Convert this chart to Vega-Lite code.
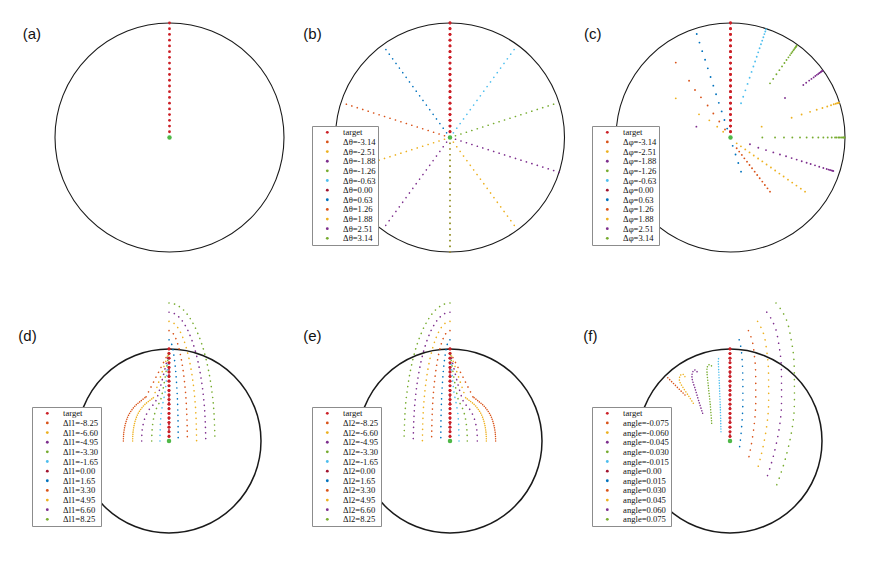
{
"$schema": "https://vega.github.io/schema/vega-lite/v6.json",
"padding": 0,
"spacing": 0,
"background": "white",
"resolve": {"scale": {"color": "independent"}, "legend": {"color": "independent"}},
"config": {
  "view": {"stroke": null},
  "concat": {"spacing": 0},
  "legend": {"labelFont": "Liberation Serif", "labelFontSize": 8.6, "labelColor": "#111111", "strokeColor": "#8c8c8c", "fillColor": "#ffffff", "padding": 2, "rowPadding": 0.64, "symbolSize": 8, "symbolType": "circle", "symbolStrokeWidth": 0, "labelOffset": 11.5, "symbolOffset": 9, "labelLimit": 0}
},
"datasets": {
  "o": [{"x": 0, "y": 0}],
  "tgt": [
    {"s":"target","x":0,"y":0},{"s":"target","x":0,"y":0.05},{"s":"target","x":0,"y":0.1},{"s":"target","x":0,"y":0.15},{"s":"target","x":0,"y":0.2},{"s":"target","x":0,"y":0.25},{"s":"target","x":0,"y":0.3},{"s":"target","x":0,"y":0.35},{"s":"target","x":0,"y":0.4},{"s":"target","x":0,"y":0.45},{"s":"target","x":0,"y":0.5},{"s":"target","x":0,"y":0.55},{"s":"target","x":0,"y":0.6},{"s":"target","x":0,"y":0.65},{"s":"target","x":0,"y":0.7},{"s":"target","x":0,"y":0.75},{"s":"target","x":0,"y":0.8},{"s":"target","x":0,"y":0.85},{"s":"target","x":0,"y":0.9},{"s":"target","x":0,"y":0.95},{"s":"target","x":0,"y":1}
  ],
  "b": [
    {"s":"Δθ=-3.14","x":0,"y":0},{"s":"Δθ=-3.14","x":0,"y":-1},
    {"s":"Δθ=-2.51","x":0,"y":0},{"s":"Δθ=-2.51","x":0.59,"y":-0.807},
    {"s":"Δθ=-1.88","x":0,"y":0},{"s":"Δθ=-1.88","x":0.953,"y":-0.304},
    {"s":"Δθ=-1.26","x":0,"y":0},{"s":"Δθ=-1.26","x":0.952,"y":0.306},
    {"s":"Δθ=-0.63","x":0,"y":0},{"s":"Δθ=-0.63","x":0.589,"y":0.808},
    {"s":"Δθ=0.00","x":0,"y":0},{"s":"Δθ=0.00","x":0,"y":1},
    {"s":"Δθ=0.63","x":0,"y":0},{"s":"Δθ=0.63","x":-0.589,"y":0.808},
    {"s":"Δθ=1.26","x":0,"y":0},{"s":"Δθ=1.26","x":-0.952,"y":0.306},
    {"s":"Δθ=1.88","x":0,"y":0},{"s":"Δθ=1.88","x":-0.953,"y":-0.304},
    {"s":"Δθ=2.51","x":0,"y":0},{"s":"Δθ=2.51","x":-0.59,"y":-0.807},
    {"s":"Δθ=3.14","x":0,"y":0},{"s":"Δθ=3.14","x":0,"y":-1}
  ],
  "c": [
    {"s":"Δφ=-0.63","x":0.092,"y":0.299},{"s":"Δφ=-0.63","x":0.111,"y":0.356},{"s":"Δφ=-0.63","x":0.13,"y":0.412},{"s":"Δφ=-0.63","x":0.149,"y":0.468},{"s":"Δφ=-0.63","x":0.167,"y":0.522},{"s":"Δφ=-0.63","x":0.184,"y":0.573},{"s":"Δφ=-0.63","x":0.2,"y":0.62},{"s":"Δφ=-0.63","x":0.215,"y":0.664},{"s":"Δφ=-0.63","x":0.229,"y":0.705},{"s":"Δφ=-0.63","x":0.242,"y":0.744},{"s":"Δφ=-0.63","x":0.254,"y":0.78},{"s":"Δφ=-0.63","x":0.266,"y":0.814},{"s":"Δφ=-0.63","x":0.277,"y":0.846},{"s":"Δφ=-0.63","x":0.287,"y":0.876},{"s":"Δφ=-0.63","x":0.296,"y":0.903},{"s":"Δφ=-0.63","x":0.304,"y":0.926},{"s":"Δφ=-0.63","x":0.31,"y":0.945},
    {"s":"Δφ=-1.26","x":0.345,"y":0.473},{"s":"Δφ=-1.26","x":0.373,"y":0.512},{"s":"Δφ=-1.26","x":0.401,"y":0.552},{"s":"Δφ=-1.26","x":0.427,"y":0.588},{"s":"Δφ=-1.26","x":0.45,"y":0.621},{"s":"Δφ=-1.26","x":0.471,"y":0.651},{"s":"Δφ=-1.26","x":0.489,"y":0.677},{"s":"Δφ=-1.26","x":0.506,"y":0.7},{"s":"Δφ=-1.26","x":0.52,"y":0.72},{"s":"Δφ=-1.26","x":0.531,"y":0.736},{"s":"Δφ=-1.26","x":0.541,"y":0.749},{"s":"Δφ=-1.26","x":0.55,"y":0.763},{"s":"Δφ=-1.26","x":0.557,"y":0.772},{"s":"Δφ=-1.26","x":0.564,"y":0.782},{"s":"Δφ=-1.26","x":0.569,"y":0.789},{"s":"Δφ=-1.26","x":0.573,"y":0.795},{"s":"Δφ=-1.26","x":0.578,"y":0.802},
    {"s":"Δφ=-1.88","x":0.636,"y":0.459},{"s":"Δφ=-1.88","x":0.661,"y":0.478},{"s":"Δφ=-1.88","x":0.687,"y":0.497},{"s":"Δφ=-1.88","x":0.707,"y":0.512},{"s":"Δφ=-1.88","x":0.726,"y":0.525},{"s":"Δφ=-1.88","x":0.741,"y":0.537},{"s":"Δφ=-1.88","x":0.754,"y":0.547},{"s":"Δφ=-1.88","x":0.766,"y":0.555},{"s":"Δφ=-1.88","x":0.776,"y":0.563},{"s":"Δφ=-1.88","x":0.785,"y":0.569},{"s":"Δφ=-1.88","x":0.791,"y":0.574},{"s":"Δφ=-1.88","x":0.796,"y":0.578},{"s":"Δφ=-1.88","x":0.801,"y":0.581},{"s":"Δφ=-1.88","x":0.805,"y":0.584},
    {"s":"Δφ=-2.51","x":0.534,"y":0.173},{"s":"Δφ=-2.51","x":0.621,"y":0.201},{"s":"Δφ=-2.51","x":0.695,"y":0.224},{"s":"Δφ=-2.51","x":0.753,"y":0.242},{"s":"Δφ=-2.51","x":0.803,"y":0.258},{"s":"Δφ=-2.51","x":0.845,"y":0.271},{"s":"Δφ=-2.51","x":0.878,"y":0.282},{"s":"Δφ=-2.51","x":0.902,"y":0.29},{"s":"Δφ=-2.51","x":0.919,"y":0.295},{"s":"Δφ=-2.51","x":0.931,"y":0.299},{"s":"Δφ=-2.51","x":0.94,"y":0.301},{"s":"Δφ=-2.51","x":0.948,"y":0.304},{"s":"Δφ=-2.51","x":0.272,"y":0.095},
    {"s":"Δφ=3.14","x":0.278,"y":0},{"s":"Δφ=3.14","x":0.389,"y":0},{"s":"Δφ=3.14","x":0.467,"y":0},{"s":"Δφ=3.14","x":0.54,"y":0},{"s":"Δφ=3.14","x":0.607,"y":0},{"s":"Δφ=3.14","x":0.665,"y":0},{"s":"Δφ=3.14","x":0.718,"y":0},{"s":"Δφ=3.14","x":0.767,"y":0},{"s":"Δφ=3.14","x":0.811,"y":0},{"s":"Δφ=3.14","x":0.849,"y":0},{"s":"Δφ=3.14","x":0.884,"y":0},{"s":"Δφ=3.14","x":0.913,"y":0},{"s":"Δφ=3.14","x":0.925,"y":0},{"s":"Δφ=3.14","x":0.942,"y":0},{"s":"Δφ=3.14","x":0.952,"y":0},{"s":"Δφ=3.14","x":0.965,"y":0},{"s":"Δφ=3.14","x":0.975,"y":0},{"s":"Δφ=3.14","x":0.985,"y":0},{"s":"Δφ=3.14","x":0.991,"y":0},{"s":"Δφ=3.14","x":0.997,"y":0},
    {"s":"Δφ=2.51","x":0.17,"y":-0.059},{"s":"Δφ=2.51","x":0.243,"y":-0.089},{"s":"Δφ=2.51","x":0.31,"y":-0.11},{"s":"Δφ=2.51","x":0.374,"y":-0.13},{"s":"Δφ=2.51","x":0.432,"y":-0.148},{"s":"Δφ=2.51","x":0.485,"y":-0.164},{"s":"Δφ=2.51","x":0.534,"y":-0.18},{"s":"Δφ=2.51","x":0.578,"y":-0.193},{"s":"Δφ=2.51","x":0.622,"y":-0.207},{"s":"Δφ=2.51","x":0.665,"y":-0.22},{"s":"Δφ=2.51","x":0.7,"y":-0.231},{"s":"Δφ=2.51","x":0.738,"y":-0.243},{"s":"Δφ=2.51","x":0.775,"y":-0.255},{"s":"Δφ=2.51","x":0.811,"y":-0.266},{"s":"Δφ=2.51","x":0.84,"y":-0.275},{"s":"Δφ=2.51","x":0.856,"y":-0.28},{"s":"Δφ=2.51","x":0.869,"y":-0.284},{"s":"Δφ=2.51","x":0.879,"y":-0.287},{"s":"Δφ=2.51","x":0.889,"y":-0.29},{"s":"Δφ=2.51","x":0.898,"y":-0.293},{"s":"Δφ=2.51","x":-0.298,"y":0.095},{"s":"Δφ=2.51","x":0.476,"y":0.345},
    {"s":"Δφ=1.88","x":0.054,"y":-0.051},{"s":"Δφ=1.88","x":0.091,"y":-0.077},{"s":"Δφ=1.88","x":0.129,"y":-0.104},{"s":"Δφ=1.88","x":0.166,"y":-0.13},{"s":"Δφ=1.88","x":0.203,"y":-0.157},{"s":"Δφ=1.88","x":0.241,"y":-0.183},{"s":"Δφ=1.88","x":0.278,"y":-0.209},{"s":"Δφ=1.88","x":0.315,"y":-0.236},{"s":"Δφ=1.88","x":0.353,"y":-0.262},{"s":"Δφ=1.88","x":0.39,"y":-0.288},{"s":"Δφ=1.88","x":0.427,"y":-0.315},{"s":"Δφ=1.88","x":0.464,"y":-0.341},{"s":"Δφ=1.88","x":0.502,"y":-0.368},{"s":"Δφ=1.88","x":0.539,"y":-0.394},{"s":"Δφ=1.88","x":0.576,"y":-0.42},{"s":"Δφ=1.88","x":0.614,"y":-0.447},{"s":"Δφ=1.88","x":0.651,"y":-0.473},
    {"s":"Δφ=1.88","x":-0.478,"y":0.342},{"s":"Δφ=1.88","x":-0.275,"y":0.202},{"s":"Δφ=1.88","x":-0.185,"y":0.15},{"s":"Δφ=1.88","x":-0.116,"y":0.095},{"s":"Δφ=1.88","x":-0.064,"y":0.05},
    {"s":"Δφ=-3.14","x":0.054,"y":-0.094},{"s":"Δφ=-3.14","x":0.076,"y":-0.123},{"s":"Δφ=-3.14","x":0.099,"y":-0.152},{"s":"Δφ=-3.14","x":0.121,"y":-0.182},{"s":"Δφ=-3.14","x":0.144,"y":-0.211},{"s":"Δφ=-3.14","x":0.166,"y":-0.24},{"s":"Δφ=-3.14","x":0.188,"y":-0.269},{"s":"Δφ=-3.14","x":0.211,"y":-0.298},{"s":"Δφ=-3.14","x":0.233,"y":-0.327},{"s":"Δφ=-3.14","x":0.255,"y":-0.356},{"s":"Δφ=-3.14","x":0.278,"y":-0.385},{"s":"Δφ=-3.14","x":0.3,"y":-0.415},{"s":"Δφ=-3.14","x":0.323,"y":-0.444},{"s":"Δφ=-3.14","x":0.345,"y":-0.473},
    {"s":"Δφ=0.63","x":-0.295,"y":0.904},{"s":"Δφ=0.63","x":-0.271,"y":0.829},{"s":"Δφ=0.63","x":-0.247,"y":0.754},{"s":"Δφ=0.63","x":-0.222,"y":0.679},{"s":"Δφ=0.63","x":-0.198,"y":0.604},{"s":"Δφ=0.63","x":-0.174,"y":0.528},{"s":"Δφ=0.63","x":-0.15,"y":0.453},{"s":"Δφ=0.63","x":-0.126,"y":0.378},{"s":"Δφ=0.63","x":-0.102,"y":0.303},{"s":"Δφ=0.63","x":-0.077,"y":0.228},{"s":"Δφ=0.63","x":-0.053,"y":0.153},{"s":"Δφ=0.63","x":-0.029,"y":0.078},{"s":"Δφ=0.63","x":-0.005,"y":0.003},{"s":"Δφ=0.63","x":0.019,"y":-0.073},{"s":"Δφ=0.63","x":0.044,"y":-0.148},{"s":"Δφ=0.63","x":0.068,"y":-0.223},{"s":"Δφ=0.63","x":0.092,"y":-0.298},
    {"s":"Δφ=1.26","x":-0.478,"y":0.654},{"s":"Δφ=1.26","x":-0.362,"y":0.496},{"s":"Δφ=1.26","x":-0.31,"y":0.415},{"s":"Δφ=1.26","x":-0.258,"y":0.351},{"s":"Δφ=1.26","x":-0.2,"y":0.28},{"s":"Δφ=1.26","x":-0.15,"y":0.21},{"s":"Δφ=1.26","x":-0.098,"y":0.14},{"s":"Δφ=1.26","x":-0.048,"y":0.07}
  ],
  "d1": [
    {"s":"Δl1=1.65","x":0,"y":1.1},{"s":"Δl1=1.65","x":0.014,"y":1.089},{"s":"Δl1=1.65","x":0.031,"y":1.046},{"s":"Δl1=1.65","x":0.05,"y":0.953},{"s":"Δl1=1.65","x":0.071,"y":0.778},{"s":"Δl1=1.65","x":0.087,"y":0.55},{"s":"Δl1=1.65","x":0.097,"y":0.285},{"s":"Δl1=1.65","x":0.1,"y":0},
    {"s":"Δl1=3.30","x":0,"y":1.2},{"s":"Δl1=3.30","x":0.028,"y":1.188},{"s":"Δl1=3.30","x":0.062,"y":1.141},{"s":"Δl1=3.30","x":0.1,"y":1.039},{"s":"Δl1=3.30","x":0.141,"y":0.848},{"s":"Δl1=3.30","x":0.173,"y":0.6},{"s":"Δl1=3.30","x":0.193,"y":0.311},{"s":"Δl1=3.30","x":0.2,"y":0},
    {"s":"Δl1=4.95","x":0,"y":1.3},{"s":"Δl1=4.95","x":0.042,"y":1.287},{"s":"Δl1=4.95","x":0.093,"y":1.236},{"s":"Δl1=4.95","x":0.15,"y":1.126},{"s":"Δl1=4.95","x":0.212,"y":0.919},{"s":"Δl1=4.95","x":0.26,"y":0.65},{"s":"Δl1=4.95","x":0.29,"y":0.337},{"s":"Δl1=4.95","x":0.3,"y":0},
    {"s":"Δl1=6.60","x":0,"y":1.4},{"s":"Δl1=6.60","x":0.056,"y":1.386},{"s":"Δl1=6.60","x":0.124,"y":1.331},{"s":"Δl1=6.60","x":0.2,"y":1.212},{"s":"Δl1=6.60","x":0.283,"y":0.99},{"s":"Δl1=6.60","x":0.346,"y":0.7},{"s":"Δl1=6.60","x":0.386,"y":0.363},{"s":"Δl1=6.60","x":0.4,"y":0},
    {"s":"Δl1=8.25","x":0,"y":1.5},{"s":"Δl1=8.25","x":0.07,"y":1.485},{"s":"Δl1=8.25","x":0.155,"y":1.427},{"s":"Δl1=8.25","x":0.25,"y":1.299},{"s":"Δl1=8.25","x":0.354,"y":1.061},{"s":"Δl1=8.25","x":0.433,"y":0.75},{"s":"Δl1=8.25","x":0.483,"y":0.389},{"s":"Δl1=8.25","x":0.5,"y":0},
    {"s":"Δl1=0.00","x":0,"y":0},{"s":"Δl1=0.00","x":0,"y":1},
    {"s":"Δl1=-1.65","x":-0.098,"y":0},{"s":"Δl1=-1.65","x":-0.095,"y":0.15},{"s":"Δl1=-1.65","x":-0.085,"y":0.3},{"s":"Δl1=-1.65","x":-0.065,"y":0.42},{"s":"Δl1=-1.65","x":-0.045,"y":0.52},{"s":"Δl1=-1.65","x":0,"y":0.97},
    {"s":"Δl1=-3.30","x":-0.188,"y":0},{"s":"Δl1=-3.30","x":-0.185,"y":0.1},{"s":"Δl1=-3.30","x":-0.175,"y":0.2},{"s":"Δl1=-3.30","x":-0.155,"y":0.3},{"s":"Δl1=-3.30","x":-0.125,"y":0.38},{"s":"Δl1=-3.30","x":-0.09,"y":0.45},{"s":"Δl1=-3.30","x":0,"y":0.97},
    {"s":"Δl1=-4.95","x":-0.297,"y":0},{"s":"Δl1=-4.95","x":-0.295,"y":0.08},{"s":"Δl1=-4.95","x":-0.285,"y":0.16},{"s":"Δl1=-4.95","x":-0.265,"y":0.24},{"s":"Δl1=-4.95","x":-0.235,"y":0.31},{"s":"Δl1=-4.95","x":-0.195,"y":0.37},{"s":"Δl1=-4.95","x":-0.15,"y":0.42},{"s":"Δl1=-4.95","x":0,"y":0.97},
    {"s":"Δl1=-6.60","x":-0.17,"y":0.47},{"s":"Δl1=-6.60","x":0,"y":0.97},
    {"s":"Δl1=-8.25","x":-0.25,"y":0.48},{"s":"Δl1=-8.25","x":0,"y":0.97}
  ],
  "d2": [
    {"s":"Δl1=-8.25","x":-0.496,"y":0},{"s":"Δl1=-8.25","x":-0.494,"y":0.06},{"s":"Δl1=-8.25","x":-0.486,"y":0.13},{"s":"Δl1=-8.25","x":-0.47,"y":0.2},{"s":"Δl1=-8.25","x":-0.445,"y":0.27},{"s":"Δl1=-8.25","x":-0.41,"y":0.33},{"s":"Δl1=-8.25","x":-0.365,"y":0.385},{"s":"Δl1=-8.25","x":-0.31,"y":0.432},{"s":"Δl1=-8.25","x":-0.25,"y":0.48},
    {"s":"Δl1=-6.60","x":-0.395,"y":0},{"s":"Δl1=-6.60","x":-0.393,"y":0.07},{"s":"Δl1=-6.60","x":-0.385,"y":0.14},{"s":"Δl1=-6.60","x":-0.37,"y":0.21},{"s":"Δl1=-6.60","x":-0.345,"y":0.28},{"s":"Δl1=-6.60","x":-0.31,"y":0.34},{"s":"Δl1=-6.60","x":-0.265,"y":0.395},{"s":"Δl1=-6.60","x":-0.21,"y":0.44},{"s":"Δl1=-6.60","x":-0.17,"y":0.47}
  ],
  "e1": [
    {"s":"Δl2=1.65","x":0,"y":1.1},{"s":"Δl2=1.65","x":-0.014,"y":1.089},{"s":"Δl2=1.65","x":-0.031,"y":1.046},{"s":"Δl2=1.65","x":-0.05,"y":0.953},{"s":"Δl2=1.65","x":-0.071,"y":0.778},{"s":"Δl2=1.65","x":-0.087,"y":0.55},{"s":"Δl2=1.65","x":-0.097,"y":0.285},{"s":"Δl2=1.65","x":-0.1,"y":0},
    {"s":"Δl2=3.30","x":0,"y":1.2},{"s":"Δl2=3.30","x":-0.028,"y":1.188},{"s":"Δl2=3.30","x":-0.062,"y":1.141},{"s":"Δl2=3.30","x":-0.1,"y":1.039},{"s":"Δl2=3.30","x":-0.141,"y":0.848},{"s":"Δl2=3.30","x":-0.173,"y":0.6},{"s":"Δl2=3.30","x":-0.193,"y":0.311},{"s":"Δl2=3.30","x":-0.2,"y":0},
    {"s":"Δl2=4.95","x":0,"y":1.3},{"s":"Δl2=4.95","x":-0.042,"y":1.287},{"s":"Δl2=4.95","x":-0.093,"y":1.236},{"s":"Δl2=4.95","x":-0.15,"y":1.126},{"s":"Δl2=4.95","x":-0.212,"y":0.919},{"s":"Δl2=4.95","x":-0.26,"y":0.65},{"s":"Δl2=4.95","x":-0.29,"y":0.337},{"s":"Δl2=4.95","x":-0.3,"y":0},
    {"s":"Δl2=6.60","x":0,"y":1.4},{"s":"Δl2=6.60","x":-0.056,"y":1.386},{"s":"Δl2=6.60","x":-0.124,"y":1.331},{"s":"Δl2=6.60","x":-0.2,"y":1.212},{"s":"Δl2=6.60","x":-0.283,"y":0.99},{"s":"Δl2=6.60","x":-0.346,"y":0.7},{"s":"Δl2=6.60","x":-0.386,"y":0.363},{"s":"Δl2=6.60","x":-0.4,"y":0},
    {"s":"Δl2=8.25","x":0,"y":1.5},{"s":"Δl2=8.25","x":-0.07,"y":1.485},{"s":"Δl2=8.25","x":-0.155,"y":1.427},{"s":"Δl2=8.25","x":-0.25,"y":1.299},{"s":"Δl2=8.25","x":-0.354,"y":1.061},{"s":"Δl2=8.25","x":-0.433,"y":0.75},{"s":"Δl2=8.25","x":-0.483,"y":0.389},{"s":"Δl2=8.25","x":-0.5,"y":0},
    {"s":"Δl2=0.00","x":0,"y":0},{"s":"Δl2=0.00","x":0,"y":1},
    {"s":"Δl2=-1.65","x":0.098,"y":0},{"s":"Δl2=-1.65","x":0.095,"y":0.15},{"s":"Δl2=-1.65","x":0.085,"y":0.3},{"s":"Δl2=-1.65","x":0.065,"y":0.42},{"s":"Δl2=-1.65","x":0.045,"y":0.52},{"s":"Δl2=-1.65","x":0,"y":0.97},
    {"s":"Δl2=-3.30","x":0.188,"y":0},{"s":"Δl2=-3.30","x":0.185,"y":0.1},{"s":"Δl2=-3.30","x":0.175,"y":0.2},{"s":"Δl2=-3.30","x":0.155,"y":0.3},{"s":"Δl2=-3.30","x":0.125,"y":0.38},{"s":"Δl2=-3.30","x":0.09,"y":0.45},{"s":"Δl2=-3.30","x":0,"y":0.97},
    {"s":"Δl2=-4.95","x":0.297,"y":0},{"s":"Δl2=-4.95","x":0.295,"y":0.08},{"s":"Δl2=-4.95","x":0.285,"y":0.16},{"s":"Δl2=-4.95","x":0.265,"y":0.24},{"s":"Δl2=-4.95","x":0.235,"y":0.31},{"s":"Δl2=-4.95","x":0.195,"y":0.37},{"s":"Δl2=-4.95","x":0.15,"y":0.42},{"s":"Δl2=-4.95","x":0,"y":0.97},
    {"s":"Δl2=-6.60","x":0.17,"y":0.47},{"s":"Δl2=-6.60","x":0,"y":0.97},
    {"s":"Δl2=-8.25","x":0.25,"y":0.48},{"s":"Δl2=-8.25","x":0,"y":0.97}
  ],
  "e2": [
    {"s":"Δl2=-8.25","x":0.496,"y":0},{"s":"Δl2=-8.25","x":0.494,"y":0.06},{"s":"Δl2=-8.25","x":0.486,"y":0.13},{"s":"Δl2=-8.25","x":0.47,"y":0.2},{"s":"Δl2=-8.25","x":0.445,"y":0.27},{"s":"Δl2=-8.25","x":0.41,"y":0.33},{"s":"Δl2=-8.25","x":0.365,"y":0.385},{"s":"Δl2=-8.25","x":0.31,"y":0.432},{"s":"Δl2=-8.25","x":0.25,"y":0.48},
    {"s":"Δl2=-6.60","x":0.395,"y":0},{"s":"Δl2=-6.60","x":0.393,"y":0.07},{"s":"Δl2=-6.60","x":0.385,"y":0.14},{"s":"Δl2=-6.60","x":0.37,"y":0.21},{"s":"Δl2=-6.60","x":0.345,"y":0.28},{"s":"Δl2=-6.60","x":0.31,"y":0.34},{"s":"Δl2=-6.60","x":0.265,"y":0.395},{"s":"Δl2=-6.60","x":0.21,"y":0.44},{"s":"Δl2=-6.60","x":0.17,"y":0.47}
  ],
  "f1": [
    {"s":"angle=0.015","x":0.1,"y":1.1},{"s":"angle=0.015","x":0.112,"y":1.052},{"s":"angle=0.015","x":0.124,"y":0.978},{"s":"angle=0.015","x":0.133,"y":0.86},{"s":"angle=0.015","x":0.138,"y":0.75},{"s":"angle=0.015","x":0.14,"y":0.56},{"s":"angle=0.015","x":0.139,"y":0.38},{"s":"angle=0.015","x":0.132,"y":0.23},{"s":"angle=0.015","x":0.12,"y":0.08},{"s":"angle=0.015","x":0.11,"y":-0.016},{"s":"angle=0.015","x":0.1,"y":-0.1},
    {"s":"angle=0.030","x":0.2,"y":1.2},{"s":"angle=0.030","x":0.224,"y":1.144},{"s":"angle=0.030","x":0.248,"y":1.058},{"s":"angle=0.030","x":0.266,"y":0.92},{"s":"angle=0.030","x":0.277,"y":0.792},{"s":"angle=0.030","x":0.28,"y":0.57},{"s":"angle=0.030","x":0.278,"y":0.36},{"s":"angle=0.030","x":0.264,"y":0.185},{"s":"angle=0.030","x":0.24,"y":0.01},{"s":"angle=0.030","x":0.22,"y":-0.102},{"s":"angle=0.030","x":0.2,"y":-0.2},
    {"s":"angle=0.045","x":0.3,"y":1.3},{"s":"angle=0.045","x":0.336,"y":1.236},{"s":"angle=0.045","x":0.373,"y":1.138},{"s":"angle=0.045","x":0.399,"y":0.98},{"s":"angle=0.045","x":0.415,"y":0.834},{"s":"angle=0.045","x":0.42,"y":0.58},{"s":"angle=0.045","x":0.417,"y":0.34},{"s":"angle=0.045","x":0.396,"y":0.14},{"s":"angle=0.045","x":0.36,"y":-0.06},{"s":"angle=0.045","x":0.33,"y":-0.188},{"s":"angle=0.045","x":0.3,"y":-0.3},
    {"s":"angle=0.060","x":0.4,"y":1.4},{"s":"angle=0.060","x":0.448,"y":1.328},{"s":"angle=0.060","x":0.497,"y":1.217},{"s":"angle=0.060","x":0.532,"y":1.04},{"s":"angle=0.060","x":0.554,"y":0.875},{"s":"angle=0.060","x":0.56,"y":0.59},{"s":"angle=0.060","x":0.556,"y":0.32},{"s":"angle=0.060","x":0.528,"y":0.095},{"s":"angle=0.060","x":0.48,"y":-0.13},{"s":"angle=0.060","x":0.44,"y":-0.274},{"s":"angle=0.060","x":0.4,"y":-0.4},
    {"s":"angle=0.075","x":0.5,"y":1.5},{"s":"angle=0.075","x":0.56,"y":1.42},{"s":"angle=0.075","x":0.621,"y":1.297},{"s":"angle=0.075","x":0.665,"y":1.1},{"s":"angle=0.075","x":0.692,"y":0.917},{"s":"angle=0.075","x":0.7,"y":0.6},{"s":"angle=0.075","x":0.695,"y":0.3},{"s":"angle=0.075","x":0.66,"y":0.05},{"s":"angle=0.075","x":0.6,"y":-0.2},{"s":"angle=0.075","x":0.55,"y":-0.36},{"s":"angle=0.075","x":0.5,"y":-0.5},
    {"s":"angle=0.00","x":0,"y":0},{"s":"angle=0.00","x":0,"y":1}
  ],
  "f2": [
    {"s":"angle=-0.015","x":-0.098,"y":0.101},{"s":"angle=-0.015","x":-0.105,"y":0.35},{"s":"angle=-0.015","x":-0.115,"y":0.6},{"s":"angle=-0.015","x":-0.125,"y":0.82},{"s":"angle=-0.015","x":-0.127,"y":0.88},{"s":"angle=-0.015","x":-0.12,"y":0.905},{"s":"angle=-0.015","x":-0.105,"y":0.91},
    {"s":"angle=-0.030","x":-0.199,"y":0.192},{"s":"angle=-0.030","x":-0.215,"y":0.4},{"s":"angle=-0.030","x":-0.236,"y":0.6},{"s":"angle=-0.030","x":-0.25,"y":0.75},{"s":"angle=-0.030","x":-0.248,"y":0.8},{"s":"angle=-0.030","x":-0.235,"y":0.825},{"s":"angle=-0.030","x":-0.215,"y":0.83},{"s":"angle=-0.030","x":-0.2,"y":0.815},
    {"s":"angle=-0.045","x":-0.297,"y":0.301},{"s":"angle=-0.045","x":-0.335,"y":0.42},{"s":"angle=-0.045","x":-0.38,"y":0.572},{"s":"angle=-0.045","x":-0.412,"y":0.68},{"s":"angle=-0.045","x":-0.41,"y":0.735},{"s":"angle=-0.045","x":-0.395,"y":0.765},{"s":"angle=-0.045","x":-0.375,"y":0.772},{"s":"angle=-0.045","x":-0.355,"y":0.748},
    {"s":"angle=-0.060","x":-0.399,"y":0.41},{"s":"angle=-0.060","x":-0.45,"y":0.49},{"s":"angle=-0.060","x":-0.51,"y":0.58},{"s":"angle=-0.060","x":-0.548,"y":0.65},{"s":"angle=-0.060","x":-0.546,"y":0.7},{"s":"angle=-0.060","x":-0.53,"y":0.722},{"s":"angle=-0.060","x":-0.51,"y":0.724},{"s":"angle=-0.060","x":-0.49,"y":0.7},
    {"s":"angle=-0.075","x":-0.489,"y":0.5},{"s":"angle=-0.075","x":-0.688,"y":0.699}
  ]
},
"vconcat": [
 {"spacing": 0, "resolve": {"scale": {"color": "independent"}, "legend": {"color": "independent"}}, "hconcat": [
  {"width": 295, "height": 280,
   "encoding": {"x": {"field": "x", "type": "quantitative", "scale": {"domain": [-1.4803, 1.0961], "nice": false, "zero": false}, "axis": null},
                "y": {"field": "y", "type": "quantitative", "scale": {"domain": [-1.2445, 1.2009], "nice": false, "zero": false}, "axis": null}},
   "layer": [
    {"data": {"name": "o"}, "mark": {"type": "point", "shape": "circle", "filled": false, "size": 52441, "stroke": "#1a1a1a", "strokeWidth": 1.1, "opacity": 1}},
    {"data": {"name": "tgt"}, "mark": {"type": "circle", "size": 8, "opacity": 1, "color": "#cc1f26"}},
    {"data": {"name": "o"}, "mark": {"type": "circle", "size": 20, "opacity": 1, "color": "#4fb848"}},
    {"data": {"values": [{"x": -1.282, "y": 0.9, "t": "(a)"}]}, "mark": {"type": "text", "align": "left", "baseline": "middle", "font": "Liberation Sans", "fontSize": 15, "color": "#111111"}, "encoding": {"text": {"field": "t"}}}
   ]},
  {"width": 283, "height": 280,
   "encoding": {"x": {"field": "x", "type": "quantitative", "scale": {"domain": [-1.3537, 1.1179], "nice": false, "zero": false}, "axis": null},
                "y": {"field": "y", "type": "quantitative", "scale": {"domain": [-1.2445, 1.2009], "nice": false, "zero": false}, "axis": null}},
   "layer": [
    {"data": {"name": "o"}, "mark": {"type": "point", "shape": "circle", "filled": false, "size": 52441, "stroke": "#1a1a1a", "strokeWidth": 1.1, "opacity": 1}},
    {"data": {"name": "tgt"}, "mark": {"type": "circle", "size": 8, "opacity": 1},
     "encoding": {"color": {"field": "s", "type": "nominal",
       "scale": {"domain": ["target","Δθ=-3.14","Δθ=-2.51","Δθ=-1.88","Δθ=-1.26","Δθ=-0.63","Δθ=0.00","Δθ=0.63","Δθ=1.26","Δθ=1.88","Δθ=2.51","Δθ=3.14"],
                 "range": ["#cc1f26","#D95319","#EDB120","#7E2F8E","#77AC30","#4DBEEE","#A2142F","#0072BD","#D95319","#EDB120","#7E2F8E","#77AC30"]},
       "legend": {"title": null, "orient": "none", "legendX": 17, "legendY": 126, "symbolType": "circle"}}}},
    {"data": {"name": "b"}, "mark": {"type": "line", "strokeWidth": 1.6, "strokeCap": "round", "strokeDash": [0.1, 5.625]},
     "encoding": {"order": {"value": null}, "color": {"field": "s", "type": "nominal",
       "scale": {"domain": ["target","Δθ=-3.14","Δθ=-2.51","Δθ=-1.88","Δθ=-1.26","Δθ=-0.63","Δθ=0.00","Δθ=0.63","Δθ=1.26","Δθ=1.88","Δθ=2.51","Δθ=3.14"],
                 "range": ["#cc1f26","#D95319","#EDB120","#7E2F8E","#77AC30","#4DBEEE","#A2142F","#0072BD","#D95319","#EDB120","#7E2F8E","#77AC30"]},
       "legend": {"title": null, "orient": "none", "legendX": 17, "legendY": 126, "symbolType": "circle"}}}},
    {"data": {"name": "tgt"}, "mark": {"type": "circle", "size": 8, "opacity": 1, "color": "#cc1f26"}},
    {"data": {"name": "o"}, "mark": {"type": "circle", "size": 20, "opacity": 1, "color": "#4fb848"}},
    {"data": {"values": [{"x": -1.281, "y": 0.9, "t": "(b)"}]}, "mark": {"type": "text", "align": "left", "baseline": "middle", "font": "Liberation Sans", "fontSize": 15, "color": "#111111"}, "encoding": {"text": {"field": "t"}}}
   ]},
  {"width": 305, "height": 280,
   "encoding": {"x": {"field": "x", "type": "quantitative", "scale": {"domain": [-1.3319, 1.3319], "nice": false, "zero": false}, "axis": null},
                "y": {"field": "y", "type": "quantitative", "scale": {"domain": [-1.2445, 1.2009], "nice": false, "zero": false}, "axis": null}},
   "layer": [
    {"data": {"name": "o"}, "mark": {"type": "point", "shape": "circle", "filled": false, "size": 52441, "stroke": "#1a1a1a", "strokeWidth": 1.1, "opacity": 1}},
    {"data": {"name": "tgt"}, "mark": {"type": "circle", "size": 8, "opacity": 1},
     "encoding": {"color": {"field": "s", "type": "nominal",
       "scale": {"domain": ["target","Δφ=-3.14","Δφ=-2.51","Δφ=-1.88","Δφ=-1.26","Δφ=-0.63","Δφ=0.00","Δφ=0.63","Δφ=1.26","Δφ=1.88","Δφ=2.51","Δφ=3.14"],
                 "range": ["#cc1f26","#D95319","#EDB120","#7E2F8E","#77AC30","#4DBEEE","#A2142F","#0072BD","#D95319","#EDB120","#7E2F8E","#77AC30"]},
       "legend": {"title": null, "orient": "none", "legendX": 14, "legendY": 126, "symbolType": "circle"}}}},
    {"data": {"name": "c"}, "mark": {"type": "circle", "size": 3.5, "opacity": 1},
     "encoding": {"color": {"field": "s", "type": "nominal",
       "scale": {"domain": ["target","Δφ=-3.14","Δφ=-2.51","Δφ=-1.88","Δφ=-1.26","Δφ=-0.63","Δφ=0.00","Δφ=0.63","Δφ=1.26","Δφ=1.88","Δφ=2.51","Δφ=3.14"],
                 "range": ["#cc1f26","#D95319","#EDB120","#7E2F8E","#77AC30","#4DBEEE","#A2142F","#0072BD","#D95319","#EDB120","#7E2F8E","#77AC30"]},
       "legend": {"title": null, "orient": "none", "legendX": 14, "legendY": 126, "symbolType": "circle"}}}},
    {"data": {"name": "tgt"}, "mark": {"type": "circle", "size": 8, "opacity": 1, "color": "#cc1f26"}},
    {"data": {"name": "o"}, "mark": {"type": "circle", "size": 20, "opacity": 1, "color": "#4fb848"}},
    {"data": {"values": [{"x": -1.279, "y": 0.9, "t": "(c)"}]}, "mark": {"type": "text", "align": "left", "baseline": "middle", "font": "Liberation Sans", "fontSize": 15, "color": "#111111"}, "encoding": {"text": {"field": "t"}}}
   ]}
 ]},
 {"spacing": 0, "resolve": {"scale": {"color": "independent"}, "legend": {"color": "independent"}}, "hconcat": [
  {"width": 295, "height": 284,
   "encoding": {"x": {"field": "x", "type": "quantitative", "scale": {"domain": [-1.837, 1.3696], "nice": false, "zero": false}, "axis": null},
                "y": {"field": "y", "type": "quantitative", "scale": {"domain": [-1.337, 1.75], "nice": false, "zero": false}, "axis": null}},
   "layer": [
    {"data": {"name": "o"}, "mark": {"type": "point", "shape": "circle", "filled": false, "size": 33856, "stroke": "#1a1a1a", "strokeWidth": 1.5, "opacity": 1}},
    {"data": {"name": "tgt"}, "mark": {"type": "circle", "size": 8, "opacity": 1},
     "encoding": {"color": {"field": "s", "type": "nominal",
       "scale": {"domain": ["target","Δl1=-8.25","Δl1=-6.60","Δl1=-4.95","Δl1=-3.30","Δl1=-1.65","Δl1=0.00","Δl1=1.65","Δl1=3.30","Δl1=4.95","Δl1=6.60","Δl1=8.25"],
                 "range": ["#cc1f26","#D95319","#EDB120","#7E2F8E","#77AC30","#4DBEEE","#A2142F","#0072BD","#D95319","#EDB120","#7E2F8E","#77AC30"]},
       "legend": {"title": null, "orient": "none", "legendX": 32, "legendY": 127, "symbolType": "circle"}}}},
    {"data": {"name": "d1"}, "mark": {"type": "line", "interpolate": "catmull-rom", "strokeWidth": 1.6, "strokeCap": "round", "strokeDash": [0.1, 5.4]},
     "encoding": {"order": {"value": null}, "color": {"field": "s", "type": "nominal",
       "scale": {"domain": ["target","Δl1=-8.25","Δl1=-6.60","Δl1=-4.95","Δl1=-3.30","Δl1=-1.65","Δl1=0.00","Δl1=1.65","Δl1=3.30","Δl1=4.95","Δl1=6.60","Δl1=8.25"],
                 "range": ["#cc1f26","#D95319","#EDB120","#7E2F8E","#77AC30","#4DBEEE","#A2142F","#0072BD","#D95319","#EDB120","#7E2F8E","#77AC30"]},
       "legend": {"title": null, "orient": "none", "legendX": 32, "legendY": 127, "symbolType": "circle"}}}},
    {"data": {"name": "d2"}, "mark": {"type": "line", "interpolate": "catmull-rom", "strokeWidth": 1.5, "strokeCap": "round", "strokeDash": [0.1, 2.1]},
     "encoding": {"order": {"value": null}, "color": {"field": "s", "type": "nominal",
       "scale": {"domain": ["target","Δl1=-8.25","Δl1=-6.60","Δl1=-4.95","Δl1=-3.30","Δl1=-1.65","Δl1=0.00","Δl1=1.65","Δl1=3.30","Δl1=4.95","Δl1=6.60","Δl1=8.25"],
                 "range": ["#cc1f26","#D95319","#EDB120","#7E2F8E","#77AC30","#4DBEEE","#A2142F","#0072BD","#D95319","#EDB120","#7E2F8E","#77AC30"]},
       "legend": {"title": null, "orient": "none", "legendX": 32, "legendY": 127, "symbolType": "circle"}}}},
    {"data": {"name": "tgt"}, "mark": {"type": "circle", "size": 8, "opacity": 1, "color": "#cc1f26"}},
    {"data": {"name": "o"}, "mark": {"type": "circle", "size": 20, "opacity": 1, "color": "#4fb848"}},
    {"data": {"values": [{"x": -1.638, "y": 1.136, "t": "(d)"}]}, "mark": {"type": "text", "align": "left", "baseline": "middle", "font": "Liberation Sans", "fontSize": 15, "color": "#111111"}, "encoding": {"text": {"field": "t"}}}
   ]},
  {"width": 283, "height": 284,
   "encoding": {"x": {"field": "x", "type": "quantitative", "scale": {"domain": [-1.6848, 1.3913], "nice": false, "zero": false}, "axis": null},
                "y": {"field": "y", "type": "quantitative", "scale": {"domain": [-1.337, 1.75], "nice": false, "zero": false}, "axis": null}},
   "layer": [
    {"data": {"name": "o"}, "mark": {"type": "point", "shape": "circle", "filled": false, "size": 33856, "stroke": "#1a1a1a", "strokeWidth": 1.5, "opacity": 1}},
    {"data": {"name": "tgt"}, "mark": {"type": "circle", "size": 8, "opacity": 1},
     "encoding": {"color": {"field": "s", "type": "nominal",
       "scale": {"domain": ["target","Δl2=-8.25","Δl2=-6.60","Δl2=-4.95","Δl2=-3.30","Δl2=-1.65","Δl2=0.00","Δl2=1.65","Δl2=3.30","Δl2=4.95","Δl2=6.60","Δl2=8.25"],
                 "range": ["#cc1f26","#D95319","#EDB120","#7E2F8E","#77AC30","#4DBEEE","#A2142F","#0072BD","#D95319","#EDB120","#7E2F8E","#77AC30"]},
       "legend": {"title": null, "orient": "none", "legendX": 17, "legendY": 127, "symbolType": "circle"}}}},
    {"data": {"name": "e1"}, "mark": {"type": "line", "interpolate": "catmull-rom", "strokeWidth": 1.6, "strokeCap": "round", "strokeDash": [0.1, 5.4]},
     "encoding": {"order": {"value": null}, "color": {"field": "s", "type": "nominal",
       "scale": {"domain": ["target","Δl2=-8.25","Δl2=-6.60","Δl2=-4.95","Δl2=-3.30","Δl2=-1.65","Δl2=0.00","Δl2=1.65","Δl2=3.30","Δl2=4.95","Δl2=6.60","Δl2=8.25"],
                 "range": ["#cc1f26","#D95319","#EDB120","#7E2F8E","#77AC30","#4DBEEE","#A2142F","#0072BD","#D95319","#EDB120","#7E2F8E","#77AC30"]},
       "legend": {"title": null, "orient": "none", "legendX": 17, "legendY": 127, "symbolType": "circle"}}}},
    {"data": {"name": "e2"}, "mark": {"type": "line", "interpolate": "catmull-rom", "strokeWidth": 1.5, "strokeCap": "round", "strokeDash": [0.1, 2.1]},
     "encoding": {"order": {"value": null}, "color": {"field": "s", "type": "nominal",
       "scale": {"domain": ["target","Δl2=-8.25","Δl2=-6.60","Δl2=-4.95","Δl2=-3.30","Δl2=-1.65","Δl2=0.00","Δl2=1.65","Δl2=3.30","Δl2=4.95","Δl2=6.60","Δl2=8.25"],
                 "range": ["#cc1f26","#D95319","#EDB120","#7E2F8E","#77AC30","#4DBEEE","#A2142F","#0072BD","#D95319","#EDB120","#7E2F8E","#77AC30"]},
       "legend": {"title": null, "orient": "none", "legendX": 17, "legendY": 127, "symbolType": "circle"}}}},
    {"data": {"name": "tgt"}, "mark": {"type": "circle", "size": 8, "opacity": 1, "color": "#cc1f26"}},
    {"data": {"name": "o"}, "mark": {"type": "circle", "size": 20, "opacity": 1, "color": "#4fb848"}},
    {"data": {"values": [{"x": -1.595, "y": 1.136, "t": "(e)"}]}, "mark": {"type": "text", "align": "left", "baseline": "middle", "font": "Liberation Sans", "fontSize": 15, "color": "#111111"}, "encoding": {"text": {"field": "t"}}}
   ]},
  {"width": 305, "height": 284,
   "encoding": {"x": {"field": "x", "type": "quantitative", "scale": {"domain": [-1.6522, 1.663], "nice": false, "zero": false}, "axis": null},
                "y": {"field": "y", "type": "quantitative", "scale": {"domain": [-1.337, 1.75], "nice": false, "zero": false}, "axis": null}},
   "layer": [
    {"data": {"name": "o"}, "mark": {"type": "point", "shape": "circle", "filled": false, "size": 33856, "stroke": "#1a1a1a", "strokeWidth": 1.5, "opacity": 1}},
    {"data": {"name": "tgt"}, "mark": {"type": "circle", "size": 8, "opacity": 1},
     "encoding": {"color": {"field": "s", "type": "nominal",
       "scale": {"domain": ["target","angle=-0.075","angle=-0.060","angle=-0.045","angle=-0.030","angle=-0.015","angle=0.00","angle=0.015","angle=0.030","angle=0.045","angle=0.060","angle=0.075"],
                 "range": ["#cc1f26","#D95319","#EDB120","#7E2F8E","#77AC30","#4DBEEE","#A2142F","#0072BD","#D95319","#EDB120","#7E2F8E","#77AC30"]},
       "legend": {"title": null, "orient": "none", "legendX": 14, "legendY": 127, "symbolType": "circle"}}}},
    {"data": {"name": "f1"}, "mark": {"type": "line", "interpolate": "catmull-rom", "strokeWidth": 1.6, "strokeCap": "round", "strokeDash": [0.1, 6.6]},
     "encoding": {"order": {"value": null}, "color": {"field": "s", "type": "nominal",
       "scale": {"domain": ["target","angle=-0.075","angle=-0.060","angle=-0.045","angle=-0.030","angle=-0.015","angle=0.00","angle=0.015","angle=0.030","angle=0.045","angle=0.060","angle=0.075"],
                 "range": ["#cc1f26","#D95319","#EDB120","#7E2F8E","#77AC30","#4DBEEE","#A2142F","#0072BD","#D95319","#EDB120","#7E2F8E","#77AC30"]},
       "legend": {"title": null, "orient": "none", "legendX": 14, "legendY": 127, "symbolType": "circle"}}}},
    {"data": {"name": "f2"}, "mark": {"type": "line", "interpolate": "catmull-rom", "strokeWidth": 1.5, "strokeCap": "round", "strokeDash": [0.1, 2.6]},
     "encoding": {"order": {"value": null}, "color": {"field": "s", "type": "nominal",
       "scale": {"domain": ["target","angle=-0.075","angle=-0.060","angle=-0.045","angle=-0.030","angle=-0.015","angle=0.00","angle=0.015","angle=0.030","angle=0.045","angle=0.060","angle=0.075"],
                 "range": ["#cc1f26","#D95319","#EDB120","#7E2F8E","#77AC30","#4DBEEE","#A2142F","#0072BD","#D95319","#EDB120","#7E2F8E","#77AC30"]},
       "legend": {"title": null, "orient": "none", "legendX": 14, "legendY": 127, "symbolType": "circle"}}}},
    {"data": {"name": "tgt"}, "mark": {"type": "circle", "size": 8, "opacity": 1, "color": "#cc1f26"}},
    {"data": {"name": "o"}, "mark": {"type": "circle", "size": 20, "opacity": 1, "color": "#4fb848"}},
    {"data": {"values": [{"x": -1.595, "y": 1.136, "t": "(f)"}]}, "mark": {"type": "text", "align": "left", "baseline": "middle", "font": "Liberation Sans", "fontSize": 15, "color": "#111111"}, "encoding": {"text": {"field": "t"}}}
   ]}
 ]}
]
}
